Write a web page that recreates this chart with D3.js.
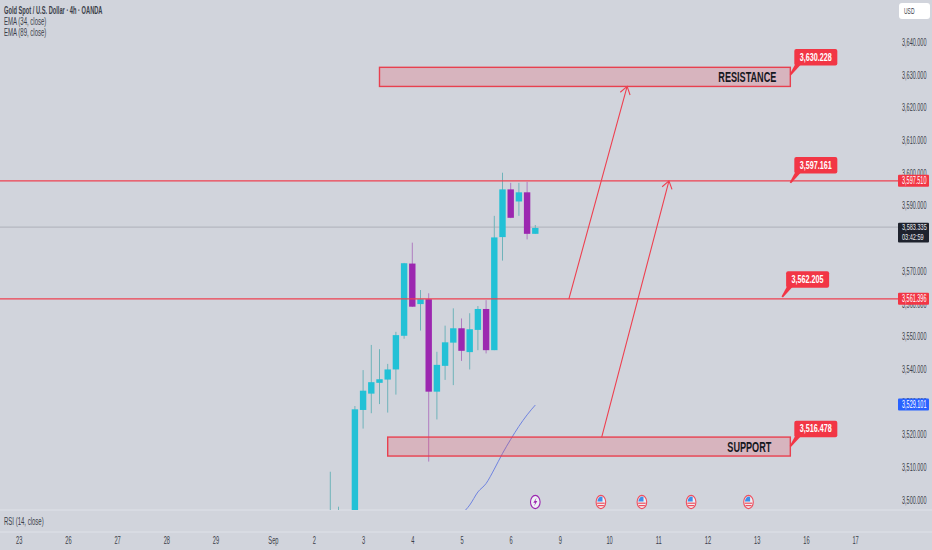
<!DOCTYPE html>
<html>
<head>
<meta charset="utf-8">
<script src="https://cdnjs.cloudflare.com/ajax/libs/d3/7.8.5/d3.min.js"></script>
<style>
  html, body { margin: 0; padding: 0; background: #d1d4dc; }
  svg { display: block; }
  svg text { font-family: "Liberation Sans", sans-serif; }
</style>
</head>
<body>
<div id="chart"></div>
<script>
// candles, 4h bars counted from the first one visible
const barIndex = [0, 1, 2, 3, 4, 5, 6, 7, 8, 9, 10, 11, 12, 13, 14, 15, 16, 17, 18, 19, 20, 21, 22, 23, 24, 25]
const opens = [3480, 3485, 3486, 3470, 3527.4, 3532.4, 3535.7, 3536.7, 3539.8, 3550.1, 3572.2, 3559.8, 3561.3, 3533.0, 3540.9, 3548.0, 3552.4, 3545.1, 3551.9, 3558.3, 3545.7, 3580.3, 3594.9, 3591.2, 3594.0, 3581.3]
const highs = [3508.5, 3497.8, 3490, 3528.6, 3539.6, 3547.3, 3546.0, 3541.5, 3551.3, 3572.4, 3578.6, 3564.1, 3563.1, 3545.2, 3553.2, 3558.5, 3555.4, 3557.0, 3559.2, 3561.0, 3586.8, 3600.0, 3596.9, 3596.9, 3597.2, 3584.0]
const lows = [3470, 3475, 3480, 3468, 3521.7, 3526.4, 3529.2, 3526.6, 3532.1, 3549.2, 3558.9, 3551.7, 3511.6, 3524.5, 3536.6, 3535.0, 3542.4, 3539.8, 3545.7, 3544.7, 3545.7, 3573.1, 3586.1, 3586.8, 3579.6, 3581.3]
const closes = [3485, 3486, 3488, 3527.6, 3533.3, 3535.9, 3536.8, 3539.8, 3550.3, 3572.3, 3559.0, 3561.3, 3533.0, 3541.2, 3548.1, 3552.4, 3545.5, 3552.1, 3558.3, 3545.7, 3580.2, 3594.9, 3586.2, 3594.0, 3581.3, 3583.1]

// EMA (34) for the bars it is visible on
const emaBars = [16, 17, 18, 19, 20, 21, 22, 23, 24, 25]
const emaValues = [3495.5, 3498.3, 3502.3, 3504.9, 3509.3, 3514.1, 3518.4, 3522.4, 3525.9, 3528.9]

// 3,580 sits fully behind the last price tag in the picture
const priceTicks = [3500, 3510, 3520, 3530, 3540, 3550, 3560, 3570, 3590, 3600, 3610, 3620, 3630, 3640]
const dayBars = [-38, -32, -26, -20, -14, -7, -2, 4, 10, 16, 22, 28, 34, 40, 46, 52, 58, 64]
const dayLabels = ['23', '26', '27', '28', '29', 'Sep', '2', '3', '4', '5', '6', '9', '10', '11', '12', '13', '16', '17']

const legendLabels = ['Gold Spot / U.S. Dollar · 4h · OANDA', 'EMA (34, close)', 'EMA (89, close)']

const levelPrices = [3597.51, 3561.396]
const lastPrice = 3583.335
const countdown = '03:42:59'
const emaLast = 3529.101

// zones
const zoneNames = ['RESISTANCE', 'SUPPORT']
const zoneStart = [6, 7]
const zoneEnd = [56.1, 56.1]
const zoneTop = [3632.25, 3519.1]
const zoneBottom = [3626.4, 3513.3]

// arrows
const arrowFromBar = [29.1, 33.1]
const arrowFromPrice = [3561.4, 3519.1]
const arrowToBar = [36.2, 41.3]
const arrowToPrice = [3626.4, 3597.5]

// callouts
const calloutPrices = [3630.228, 3597.161, 3562.205, 3516.478]
const calloutBars = [56.1, 56.1, 55.1, 56.1]

// calendar events
const eventBars = [25, 33, 38, 44, 51]
const eventKinds = ['bolt', 'us', 'us', 'us', 'us']

const width = 932, height = 550
const paneRight = 898, paneBottom = 510, timeTop = 532

const RED = '#f23645', UP = '#22c1d6', DOWN = '#9c27b0', TEXT = '#3b3f4a'

const x = d3.scaleLinear().domain([-38, 64]).range([18.7, 855.1])
const y = d3.scaleLinear().domain([3500, 3640]).range([499.5, 42])
const fmt = d3.format(',.3f')

// the chart font is a condensed one, none is installed so squeeze the text
function narrow(selection, factor) {
  selection.each(function() {
    const w = this.getComputedTextLength()
    d3.select(this)
      .attr('textLength', w * factor)
      .attr('lengthAdjust', 'spacingAndGlyphs')
  })
  return selection
}

const svg = d3.select('#chart').append('svg')
  .attr('width', width)
  .attr('height', height)
  .style('background', '#d1d4dc')

svg.append('defs').append('clipPath').attr('id', 'pane')
  .append('rect').attr('width', paneRight).attr('height', paneBottom)

// pane separators
svg.selectAll('line.sep')
  .data([paneBottom, timeTop])
  .join('line')
  .attr('class', 'sep')
  .attr('x1', 0).attr('x2', width)
  .attr('y1', d => d).attr('y2', d => d)
  .style('stroke', '#dfe2e9')
  .style('stroke-width', 1)

const pane = svg.append('g').attr('clip-path', 'url(#pane)')

// last price line
pane.append('line')
  .attr('x1', 0).attr('x2', paneRight)
  .attr('y1', y(lastPrice)).attr('y2', y(lastPrice))
  .style('stroke', '#b4b7c0')
  .style('stroke-width', 1.2)

// candles
const candles = barIndex.map((b, i) => ({ b, o: opens[i], h: highs[i], l: lows[i], c: closes[i] }))
const candle = pane.append('g').selectAll('g')
  .data(candles)
  .join('g')

candle.append('line')
  .attr('x1', d => x(d.b)).attr('x2', d => x(d.b))
  .attr('y1', d => y(d.h)).attr('y2', d => y(d.l))
  .style('stroke', d => d.c >= d.o ? '#6fb3ba' : '#b07cc0')
  .style('stroke-width', 1)

candle.append('rect')
  .attr('x', d => x(d.b) - 3.2)
  .attr('width', 6.4)
  .attr('y', d => y(Math.max(d.o, d.c)))
  .attr('height', d => Math.max(1, Math.abs(y(d.o) - y(d.c))))
  .style('fill', d => d.c >= d.o ? UP : DOWN)

// EMA
const emaLine = d3.line().x((d, i) => x(emaBars[i])).y(d => y(d)).curve(d3.curveMonotoneX)
pane.append('path')
  .attr('d', emaLine(emaValues))
  .style('fill', 'none')
  .style('stroke', '#6f83e0')
  .style('stroke-width', 1)

// horizontal levels
pane.selectAll('line.level')
  .data(levelPrices)
  .join('line')
  .attr('class', 'level')
  .attr('x1', 0).attr('x2', paneRight)
  .attr('y1', d => y(d)).attr('y2', d => y(d))
  .style('stroke', '#ee4050')
  .style('stroke-width', 1.4)

// zones
const zones = zoneNames.map((name, i) => ({ name, s: zoneStart[i], e: zoneEnd[i], t: zoneTop[i], b: zoneBottom[i] }))
const zone = pane.append('g').selectAll('g').data(zones).join('g')
zone.append('rect')
  .attr('x', d => x(d.s))
  .attr('y', d => y(d.t))
  .attr('width', d => x(d.e) - x(d.s))
  .attr('height', d => y(d.b) - y(d.t))
  .style('fill', RED)
  .style('fill-opacity', 0.2)
  .style('stroke', '#e8404f')
  .style('stroke-width', 1.4)
zone.append('text')
  .attr('x', (d, i) => x(d.e) + (i === 0 ? -14 : -19))
  .attr('y', d => (y(d.t) + y(d.b)) / 2 + 5)
  .attr('text-anchor', 'end')
  .style('font-weight', 'bold')
  .style('font-size', '14px')
  .style('fill', '#16181f')
  .text(d => d.name)
  .call(narrow, 0.65)

// arrows
arrowFromBar.forEach((b, i) => {
  const x1 = x(b), y1 = y(arrowFromPrice[i]), x2 = x(arrowToBar[i]), y2 = y(arrowToPrice[i])
  const a = Math.atan2(y2 - y1, x2 - x1)
  const head = [a - 0.6, a + 0.6].map(t => [x2 - 9 * Math.cos(t), y2 - 9 * Math.sin(t)])
  pane.append('path')
    .attr('d', `M${x1},${y1}L${x2},${y2}M${head[0]}L${x2},${y2}L${head[1]}`)
    .style('fill', 'none')
    .style('stroke', '#ee4050')
    .style('stroke-width', 1.1)
})

// events
const event = pane.append('g').selectAll('g')
  .data(eventBars.map((b, i) => ({ b, kind: eventKinds[i] })))
  .join('g')
  .attr('transform', d => `translate(${x(d.b)},502)`)

event.append('ellipse')
  .attr('rx', 4.8).attr('ry', 6.6)
  .style('fill', '#eef0f4')
  .style('stroke', d => d.kind === 'bolt' ? DOWN : '#ee5060')
  .style('stroke-width', 1.1)

event.filter(d => d.kind === 'bolt').append('path')
  .attr('d', 'M1.2,-4.2L-2,0.8L-0.1,0.8L-1.2,4.2L2,-1L0.1,-1Z')
  .style('fill', DOWN)

const flag = event.filter(d => d.kind === 'us')
flag.append('path')
  .attr('d', 'M-3.6,-0.6A3.8,5.2 0 0 1 1.6,-5L1.6,-0.6Z')
  .style('fill', '#3f8fe8')
flag.append('rect')
  .attr('x', -3.8).attr('y', 0.6).attr('width', 7.6).attr('height', 1.2)
  .style('fill', '#ee5060')
flag.append('rect')
  .attr('x', -3).attr('y', 3).attr('width', 6).attr('height', 1.2)
  .style('fill', '#ee5060')

// price axis
const priceAxis = svg.append('g')
  .attr('transform', `translate(${paneRight + 4},0.4)`)
  .call(d3.axisRight(y).tickValues(priceTicks).tickFormat(fmt).tickSize(0).tickPadding(0))
priceAxis.select('.domain').remove()
priceAxis.selectAll('text')
  .style('font-family', '"Liberation Sans", sans-serif')
  .style('font-size', '10px')
  .style('fill', TEXT)
  .call(narrow, 0.55)

// time axis
const timeAxis = svg.append('g')
  .attr('transform', `translate(0,${timeTop + 5})`)
  .call(d3.axisBottom(x).tickValues(dayBars).tickFormat((d, i) => dayLabels[i]).tickSize(0).tickPadding(0))
timeAxis.select('.domain').remove()
timeAxis.selectAll('text')
  .style('font-family', '"Liberation Sans", sans-serif')
  .style('font-size', '10px')
  .style('fill', TEXT)
  .call(narrow, 0.57)

// price tags on the axis
const tags = levelPrices.map(p => ({ p, color: RED })).concat([{ p: emaLast, color: '#2962ff' }])
const tag = svg.append('g').selectAll('g').data(tags).join('g')
tag.append('rect')
  .attr('x', paneRight)
  .attr('y', d => y(d.p) - 6)
  .attr('width', 31)
  .attr('height', 12)
  .attr('rx', 1)
  .style('fill', d => d.color)
tag.append('text')
  .attr('x', paneRight + 4)
  .attr('y', d => y(d.p) + 3.5)
  .style('font-size', '10px')
  .style('fill', '#fff')
  .text(d => fmt(d.p))
  .call(narrow, 0.55)

// last price tag
svg.append('rect')
  .attr('x', paneRight).attr('y', y(lastPrice) - 4.5)
  .attr('width', 31).attr('height', 19.8).attr('rx', 1)
  .style('fill', '#1e222d')
svg.selectAll('text.last')
  .data([fmt(lastPrice), countdown])
  .join('text')
  .attr('class', 'last')
  .attr('x', paneRight + 4)
  .attr('y', (d, i) => y(lastPrice) + 3.2 + i * 9.5)
  .style('font-size', '9px')
  .style('fill', '#e8eaf0')
  .text(d => d)
  .call(narrow, 0.62)

// callouts
const callout = svg.append('g').selectAll('g')
  .data(calloutPrices.map((p, i) => ({ p, b: calloutBars[i] })))
  .join('g')
  .attr('transform', d => `translate(${x(d.b)},${y(d.p)})`)
callout.append('path')
  .attr('d', 'M-0.6,0.4L5,-10L11,-10L0.8,1.2Z')
  .style('fill', RED)
callout.append('rect')
  .attr('x', 4).attr('y', -25)
  .attr('width', 43).attr('height', 16.5).attr('rx', 2)
  .style('fill', RED)
callout.append('text')
  .attr('x', 25.5).attr('y', -13.3)
  .attr('text-anchor', 'middle')
  .style('font-weight', 'bold')
  .style('font-size', '10px')
  .style('fill', '#fff')
  .text(d => fmt(d.p))
  .call(narrow, 0.72)

// currency button
svg.append('rect')
  .attr('x', 899).attr('y', 3).attr('width', 31).attr('height', 16).attr('rx', 3)
  .style('fill', '#fff')
svg.append('text')
  .attr('x', 904).attr('y', 14)
  .style('font-size', '9px')
  .style('fill', TEXT)
  .text('USD')
  .call(narrow, 0.55)

// legends
const legend = svg.selectAll('text.legend')
  .data(legendLabels)
  .join('text')
  .attr('class', 'legend')
  .attr('x', 4)
  .attr('y', (d, i) => 14 + i * 10.85)
  .style('font-size', '10px')
  .style('font-weight', (d, i) => i === 0 ? 'bold' : 'normal')
  .style('fill', TEXT)
  .text(d => d)
legend.filter((d, i) => i === 0).call(narrow, 0.57)
legend.filter((d, i) => i > 0).call(narrow, 0.6)

svg.append('text')
  .attr('x', 4).attr('y', 525)
  .style('font-size', '10px')
  .style('fill', TEXT)
  .text('RSI (14, close)')
  .call(narrow, 0.6)
</script>
</body>
</html>
